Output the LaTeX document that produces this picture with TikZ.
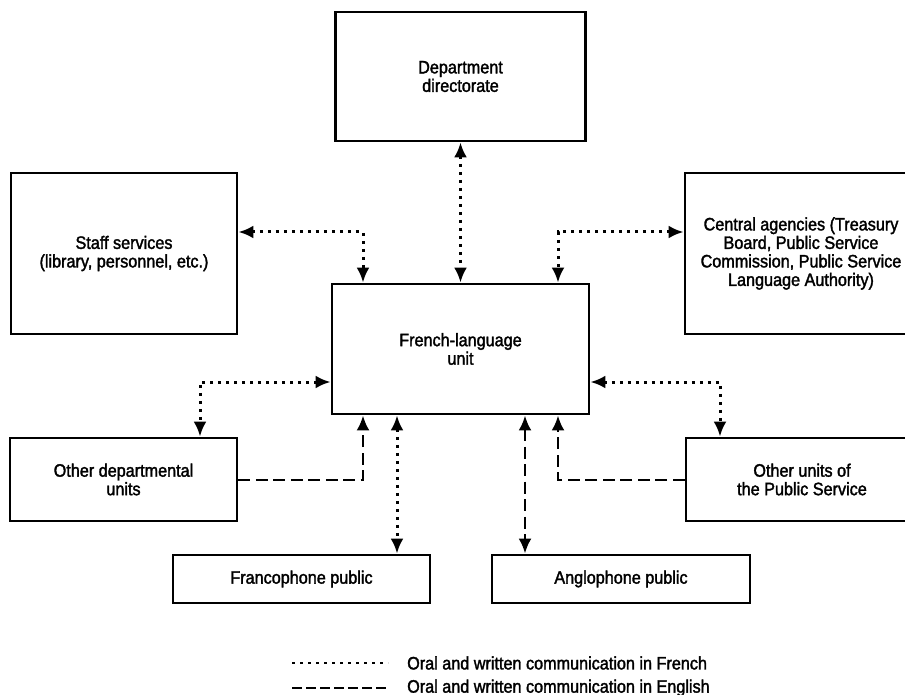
\documentclass[tikz,border=0pt]{standalone}
\usepackage{fontspec}
\setmainfont{Liberation Sans}[FakeStretch=0.9, FakeBold=1.8]
\usetikzlibrary{arrows.meta}

\begin{document}
\begin{tikzpicture}[x=1pt, y=-1pt, >={Latex[length=15pt,width=13pt]},
  box/.style={draw, line width=2.8pt, align=center, inner sep=0pt, font=\fontsize{18}{18.5}\selectfont},
  fr/.style={line width=3pt, dash pattern=on 3pt off 5pt},
  en/.style={line width=2.8pt, dash pattern=on 12pt off 5.5pt},
  legtext/.style={anchor=west, inner sep=0pt, font=\fontsize{18}{18.5}\selectfont}]
  \useasboundingbox (0,0) rectangle (905,695);
  % boxes
  \node[box, minimum width=250, minimum height=129] (dir) at (460.5,76.5) {Department\\directorate};
  \node[box, minimum width=226, minimum height=161] (staff) at (124,253.5) {Staff services\\(library, personnel, etc.)};
  \node[box, minimum width=232, minimum height=161] (central) at (801,253.5)
    {Central agencies (Treasury\\Board, Public Service\\Commission, Public Service\\Language Authority)};
  \node[box, minimum width=257, minimum height=130] (unit) at (460.5,349) {French-language\\unit};
  \node[box, minimum width=227, minimum height=83] (otherdep) at (123.5,479.5) {Other departmental\\units};
  \node[box, minimum width=232, minimum height=83] (otherps) at (802,479.5) {Other units of\\the Public Service};
  \node[box, minimum width=257, minimum height=48] (franco) at (301.5,579) {Francophone public};
  \node[box, minimum width=258, minimum height=48] (anglo) at (621,579) {Anglophone public};
  % communication in French
  \draw[fr, <->] (dir.south) -- (unit.north);
  \draw[fr, <->] ([yshift=21.5]staff.east) -| ([xshift=-97.5]unit.north);
  \draw[fr, <->] ([yshift=21.5]central.west) -| ([xshift=97.5]unit.north);
  \draw[fr, <->] ([yshift=-33]unit.west) -| ([xshift=76.5]otherdep.north);
  \draw[fr, <->] ([yshift=-33]unit.east) -| ([xshift=-82]otherps.north);
  \draw[fr, <->] ([xshift=-63.5]unit.south) -- ([xshift=-63.5]unit.south |- franco.north);
  % communication in English
  \draw[en, ->] ([yshift=-0.5]otherdep.east) -| ([xshift=-97.5]unit.south);
  \draw[en, ->] ([yshift=-0.5]otherps.west) -| ([xshift=97.5]unit.south);
  \draw[en, <->] ([xshift=64.5]unit.south) -- ([xshift=64.5]unit.south |- anglo.north);
  % legend
  \node[legtext] (legfr) at (407,663) {Oral and written communication in French};
  \node[legtext] (legen) at (407,688) {Oral and written communication in English};
  \draw[line width=2.6pt, dash pattern=on 2.6pt off 5.4pt] ([xshift=-115]legfr.west) -- ([xshift=-19]legfr.west);
  \draw[line width=2.8pt, dash pattern=on 10pt off 4pt] ([xshift=-115]legen.west) -- ([xshift=-19]legen.west);
\end{tikzpicture}
\end{document}
